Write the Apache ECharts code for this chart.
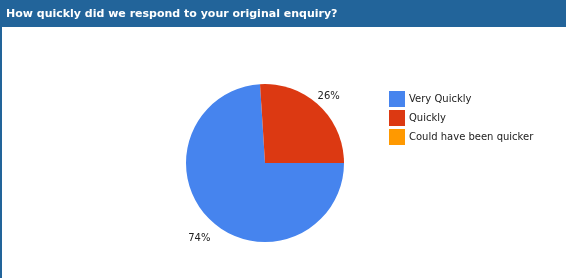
<!DOCTYPE html>
<html>
<head>
<meta charset="utf-8">
<script src="https://cdn.jsdelivr.net/npm/echarts@6/dist/echarts.min.js"></script>
<style>
  html, body { margin: 0; padding: 0; background: #fff; }
  #chart { width: 567px; height: 278px; }
</style>
</head>
<body>
<div id="chart"></div>
<script>
// Survey answers and their shares (percent)
var categories = ['Very Quickly', 'Quickly', 'Could have been quicker'];
var shares = [74, 26, 0];
var colors = ['#4684ee', '#dc3912', '#ff9900'];
var heading = 'How quickly did we respond to your original enquiry?';

// Small nudges for the percent labels, per slice
var labelNudge = [[5, 12], [-7, -3], [0, 0]];

var chart = echarts.init(document.getElementById('chart'), null, { renderer: 'canvas' });

var pieData = categories.map(function (name, i) {
  return { name: name, value: shares[i], itemStyle: { color: colors[i] } };
});

chart.setOption({
  animation: false,
  backgroundColor: '#ffffff',
  graphic: [
    { type: 'rect', left: 0, top: 0, shape: { width: 566, height: 27 }, style: { fill: '#22649a' }, z: 0 },
    { type: 'rect', left: 0, top: 0, shape: { width: 2, height: 278 }, style: { fill: '#22649a' }, z: 0 }
  ],
  title: {
    text: heading,
    left: 6,
    top: 9,
    padding: 0,
    textStyle: { color: '#ffffff', fontFamily: 'DejaVu Sans', fontWeight: 'bold', fontSize: 11 },
    z: 10
  },
  legend: {
    orient: 'vertical',
    left: 389,
    top: 91,
    itemWidth: 16,
    itemHeight: 16,
    itemGap: 3,
    icon: 'rect',
    padding: 0,
    data: categories,
    textStyle: { fontFamily: 'DejaVu Sans', fontSize: 10, color: '#222222', padding: [0, 0, 0, -1] }
  },
  series: [{
    type: 'pie',
    center: [265, 163],
    radius: 79,
    startAngle: 0,
    clockwise: true,
    avoidLabelOverlap: false,
    stillShowZeroSum: false,
    data: pieData,
    label: {
      show: true,
      position: 'outside',
      formatter: function (p) { return p.value > 0 ? Math.round(p.percent) + '%' : ''; },
      fontFamily: 'DejaVu Sans',
      fontSize: 10,
      color: '#222222',
      distanceToLabelLine: 0
    },
    labelLine: { show: false, length: 8, length2: 0 },
    labelLayout: function (p) {
      var n = labelNudge[p.dataIndex] || [0, 0];
      return { dx: n[0], dy: n[1] };
    },
    emphasis: { disabled: true }
  }]
});
</script>
</body>
</html>
